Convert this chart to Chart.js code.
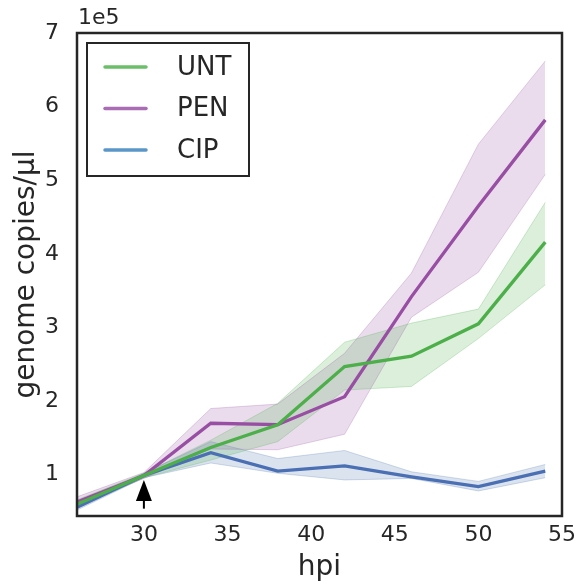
<!DOCTYPE html>
<html>
<head>
<meta charset="utf-8">
<script src="https://cdn.jsdelivr.net/npm/chart.js@4.4.1/dist/chart.umd.min.js"></script>
<style>
  html, body { margin: 0; padding: 0; background: #fff; }
  #wrap { width: 577px; height: 585px; }
</style>
</head>
<body>
<div id="wrap"><canvas id="growthChart"></canvas></div>
<script>
// hours post infection
var hpi = [26, 30, 34, 38, 42, 46, 50, 54];

// genome copies/ul, in units of 1e5
var untMean = [0.60, 0.99, 1.37, 1.68, 2.47, 2.61, 3.05, 4.16];
var untLow  = [0.55, 0.96, 1.20, 1.45, 2.15, 2.20, 2.85, 3.58];
var untHigh = [0.66, 1.02, 1.47, 1.97, 2.80, 3.06, 3.25, 4.70];

var penMean = [0.63, 0.99, 1.70, 1.68, 2.06, 3.42, 4.65, 5.82];
var penLow  = [0.58, 0.95, 1.35, 1.34, 1.55, 3.14, 3.75, 5.08];
var penHigh = [0.70, 1.03, 1.90, 1.96, 2.65, 3.74, 5.49, 6.62];

var cipMean = [0.56, 0.99, 1.30, 1.05, 1.12, 0.97, 0.84, 1.05];
var cipLow  = [0.52, 0.96, 1.16, 1.02, 0.93, 0.95, 0.78, 0.96];
var cipHigh = [0.60, 1.02, 1.45, 1.22, 1.33, 1.04, 0.91, 1.14];

var seriesNames = ['UNT', 'PEN', 'CIP'];
var xTicks = [30, 35, 40, 45, 50, 55];
var yTicks = [1, 2, 3, 4, 5, 6, 7];

var textColor = '#262626';
var fontFam = '"DejaVu Sans", sans-serif';

function pts(ys) {
  return ys.map(function(y, i) { return {x: hpi[i], y: y}; });
}

// band = lower edge + upper edge filled to it
function band(lo, hi, rgb, lowIdx) {
  return [
    { label: '_lo', data: pts(lo), borderColor: 'rgba(' + rgb + ',0.25)', borderWidth: 1,
      pointRadius: 0, fill: false, tension: 0 },
    { label: '_hi', data: pts(hi), borderColor: 'rgba(' + rgb + ',0.25)', borderWidth: 1,
      pointRadius: 0, backgroundColor: 'rgba(' + rgb + ',0.2)', fill: lowIdx, tension: 0 }
  ];
}

var datasets = [
  // lines first -> drawn on top
  { label: 'UNT', data: pts(untMean), borderColor: '#4daf4a', borderWidth: 3.3, pointRadius: 0, fill: false, tension: 0 },
  { label: 'PEN', data: pts(penMean), borderColor: '#984ea3', borderWidth: 3.3, pointRadius: 0, fill: false, tension: 0 },
  { label: 'CIP', data: pts(cipMean), borderColor: '#4a6fb3', borderWidth: 3.3, pointRadius: 0, fill: false, tension: 0 }
];
datasets = datasets.concat(band(untLow, untHigh, '77,175,74', 3));
datasets = datasets.concat(band(penLow, penHigh, '152,78,163', 5));
datasets = datasets.concat(band(cipLow, cipHigh, '76,114,176', 7));

var legendColors = ['#6cbf6a', '#a96cb5', '#5b96c8'];

var framePlugin = {
  id: 'frame',
  afterDraw: function(chart) {
    var ctx = chart.ctx, a = chart.chartArea;
    var xs = chart.scales.x, ys = chart.scales.y;
    ctx.save();
    // spines
    ctx.strokeStyle = textColor;
    ctx.lineWidth = 2.5;
    ctx.strokeRect(a.left, a.top, a.right - a.left, a.bottom - a.top);

    // offset text
    ctx.fillStyle = textColor;
    ctx.font = '22px ' + fontFam;
    ctx.textAlign = 'left';
    ctx.textBaseline = 'bottom';
    ctx.fillText('1e5', a.left + 1, a.top - 4);

    // arrow marking treatment time
    var ax = xs.getPixelForValue(30);
    var tip = ys.getPixelForValue(0.93);
    var tail = ys.getPixelForValue(0.54);
    ctx.strokeStyle = '#000';
    ctx.lineWidth = 2;
    ctx.beginPath();
    ctx.moveTo(ax, tail);
    ctx.lineTo(ax, tip + 14);
    ctx.stroke();
    ctx.fillStyle = '#000';
    ctx.beginPath();
    ctx.moveTo(ax, tip);
    ctx.lineTo(ax - 8, tip + 21);
    ctx.lineTo(ax + 8, tip + 21);
    ctx.closePath();
    ctx.fill();

    // legend box
    var bx = a.left + 10, by = a.top + 10, bw = 162, bh = 133;
    ctx.fillStyle = '#fff';
    ctx.fillRect(bx, by, bw, bh);
    ctx.strokeStyle = textColor;
    ctx.lineWidth = 2;
    ctx.strokeRect(bx, by, bw, bh);
    ctx.font = '26px ' + fontFam;
    ctx.textBaseline = 'middle';
    ctx.textAlign = 'left';
    for (var i = 0; i < seriesNames.length; i++) {
      var ly = by + 24 + i * 41.5;
      ctx.strokeStyle = legendColors[i];
      ctx.lineWidth = 3.5;
      ctx.lineCap = 'round';
      ctx.beginPath();
      ctx.moveTo(bx + 18, ly);
      ctx.lineTo(bx + 59, ly);
      ctx.stroke();
      ctx.fillStyle = textColor;
      ctx.fillText(seriesNames[i], bx + 90, ly + 1);
    }
    ctx.restore();
  }
};

var chart = new Chart(document.getElementById('growthChart').getContext('2d'), {
  type: 'line',
  data: { datasets: datasets },
  options: {
    responsive: true,
    maintainAspectRatio: false,
    animation: false,
    layout: { padding: { top: 33, right: 15, left: 0, bottom: 0 } },
    plugins: {
      legend: { display: false },
      tooltip: { enabled: false },
      filler: { drawTime: 'beforeDatasetsDraw' }
    },
    scales: {
      x: {
        type: 'linear',
        min: 26,
        max: 55,
        grid: { display: false },
        border: { display: false },
        afterBuildTicks: function(scale) {
          scale.ticks = xTicks.map(function(v) { return {value: v}; });
        },
        afterFit: function(scale) {
          scale.height = 69;
          scale.paddingLeft = 0;
          scale.paddingRight = 0;
        },
        ticks: { color: textColor, font: { size: 22, family: fontFam }, padding: -2, maxRotation: 0 },
        title: { display: true, text: 'hpi', color: textColor,
                 font: { size: 28, family: fontFam }, padding: { top: 0, bottom: 0 } }
      },
      y: {
        min: 0.44,
        max: 7,
        grid: { display: false },
        border: { display: false },
        afterBuildTicks: function(scale) {
          scale.ticks = yTicks.map(function(v) { return {value: v}; });
        },
        afterFit: function(scale) {
          scale.width = 77;
          scale.paddingTop = 0;
          scale.paddingBottom = 0;
        },
        ticks: { color: textColor, font: { size: 22, family: fontFam }, padding: 10 },
        title: { display: true, text: 'genome copies/μl', color: textColor,
                 font: { size: 28, family: fontFam }, padding: { top: 10, bottom: 0 } }
      }
    }
  },
  plugins: [framePlugin]
});
</script>
</body>
</html>
